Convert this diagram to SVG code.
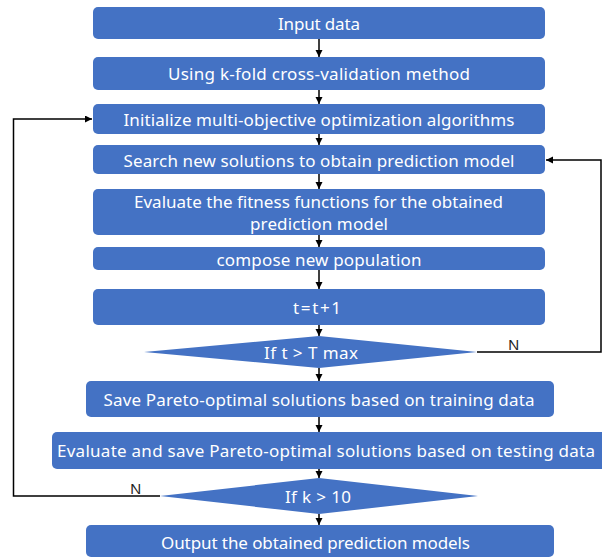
<svg xmlns="http://www.w3.org/2000/svg" width="602" height="558" viewBox="0 0 602 558">
<style>
.box{fill:#4472C4;}
.t{font-family:"Noto Sans","Liberation Sans",Arial,sans-serif;font-size:17px;fill:#ffffff;text-anchor:middle;}
.lbl{font-family:"Noto Sans","Liberation Sans",Arial,sans-serif;font-size:15px;fill:#222222;}
.c{fill:none;stroke:#000000;stroke-width:1.5;}
</style>
<defs>
<marker id="ah" markerUnits="userSpaceOnUse" markerWidth="8" markerHeight="8" refX="7" refY="3.5" orient="auto">
<path d="M0,0 L7,3.5 L0,7 z" fill="#000000"/>
</marker>
</defs>
<rect width="602" height="558" fill="#ffffff"/>
<g id="connectors">
<line class="c" x1="319" y1="39" x2="319" y2="57" marker-end="url(#ah)"/>
<line class="c" x1="319" y1="90" x2="319" y2="104" marker-end="url(#ah)"/>
<line class="c" x1="319" y1="134" x2="319" y2="145" marker-end="url(#ah)"/>
<line class="c" x1="319" y1="174" x2="319" y2="189" marker-end="url(#ah)"/>
<line class="c" x1="319" y1="235" x2="319" y2="247" marker-end="url(#ah)"/>
<line class="c" x1="319" y1="270" x2="319" y2="289" marker-end="url(#ah)"/>
<line class="c" x1="319" y1="325" x2="319" y2="336" marker-end="url(#ah)"/>
<line class="c" x1="319" y1="368" x2="319" y2="381" marker-end="url(#ah)"/>
<line class="c" x1="319" y1="417" x2="319" y2="432" marker-end="url(#ah)"/>
<line class="c" x1="319" y1="469" x2="319" y2="478" marker-end="url(#ah)"/>
<line class="c" x1="319" y1="514" x2="319" y2="525" marker-end="url(#ah)"/>
<polyline class="c" points="160,496 13.5,496 13.5,119 92,119" marker-end="url(#ah)"/>
<polyline class="c" points="477,352 601,352 601,160 546,160" marker-end="url(#ah)"/>
<text class="lbl" x="508" y="350">N</text>
<text class="lbl" x="130" y="494">N</text>
</g>
<g id="n1"><rect class="box" x="93" y="7" width="452" height="32" rx="5"/><text class="t" x="319" y="29.5" textLength="82">Input data</text></g>
<g id="n2"><rect class="box" x="93" y="57" width="452" height="33" rx="5"/><text class="t" x="319" y="80" textLength="302">Using k-fold cross-validation method</text></g>
<g id="n3"><rect class="box" x="93" y="104" width="452" height="30" rx="5"/><text class="t" x="319" y="125.5" textLength="391">Initialize multi-objective optimization algorithms</text></g>
<g id="n4"><rect class="box" x="93" y="145" width="452" height="29" rx="5"/><text class="t" x="319" y="166.5" textLength="391">Search new solutions to obtain prediction model</text></g>
<g id="n5"><rect class="box" x="93" y="189" width="452" height="46" rx="5"/><text class="t" x="318.5" y="208" textLength="369">Evaluate the fitness functions for the obtained</text><text class="t" x="319" y="229.5" textLength="138">prediction model</text></g>
<g id="n6"><rect class="box" x="93" y="247" width="452" height="23" rx="5"/><text class="t" x="319" y="265.5" textLength="205">compose new population</text></g>
<g id="n7"><rect class="box" x="93" y="289" width="452" height="36" rx="5"/><text class="t" x="317" y="313.5" textLength="48">t=t+1</text></g>
<g id="n8"><polygon class="box" points="144,352 319,336 477,352 319,368"/><text class="t" x="311" y="359" textLength="94">If t &gt; T max</text></g>
<g id="n9"><rect class="box" x="86" y="381" width="468" height="36" rx="5"/><text class="t" x="319" y="406" textLength="431">Save Pareto-optimal solutions based on training data</text></g>
<g id="n10"><rect class="box" x="52" y="432" width="556" height="37" rx="5"/><text class="t" x="326" y="457" textLength="538">Evaluate and save Pareto-optimal solutions based on testing data</text></g>
<g id="n11"><polygon class="box" points="160,496 319,478 478,496 319,514"/><text class="t" x="318" y="503" textLength="66">If k &gt; 10</text></g>
<g id="n12"><rect class="box" x="86" y="525" width="468" height="32" rx="5"/><text class="t" x="315.5" y="549" textLength="309">Output the obtained prediction models</text></g>
</svg>
